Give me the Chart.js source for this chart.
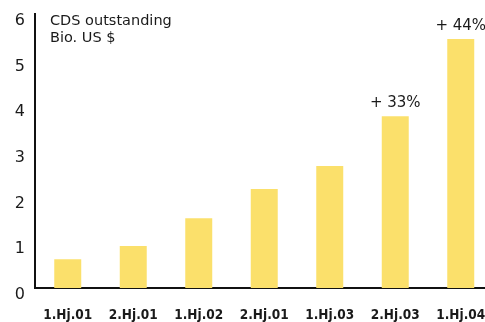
<!DOCTYPE html>
<html>
<head>
<meta charset="utf-8">
<script src="https://cdn.jsdelivr.net/npm/chart.js@4/dist/chart.umd.min.js"></script>
<style>
  html, body { margin: 0; padding: 0; background: #fff; }
  #wrap { width: 485px; height: 322px; overflow: hidden; }
  #cds { display: block; }
</style>
</head>
<body>
<div id="wrap"><canvas id="cds" width="494" height="322"></canvas></div>
<script>
// CDS volume per half-year, billions USD
const periods = ['1.Hj.01', '2.Hj.01', '1.Hj.02', '2.Hj.01', '1.Hj.03', '2.Hj.03', '1.Hj.04'];
const volumes = [0.63, 0.92, 1.53, 2.17, 2.67, 3.76, 5.45];
const growthNotes = ['', '', '', '', '', '+ 33%', '+ 44%'];
const yTicks = [0, 1, 2, 3, 4, 5, 6];
const titleLines = ['CDS outstanding', 'Bio. US $'];

const ink = '#1a1a1a';

// heading in the top-left corner and growth notes over the bars
const notesPlugin = {
    id: 'notes',
    afterDatasetsDraw(chart) {
        const ctx = chart.ctx;
        ctx.save();
        ctx.fillStyle = ink;
        ctx.font = '14.5px "DejaVu Sans"';
        ctx.textAlign = 'left';
        ctx.textBaseline = 'alphabetic';
        titleLines.forEach((t, i) => ctx.fillText(t, 50, 25 + i * 17));

        ctx.font = '15px "DejaVu Sans"';
        ctx.textAlign = 'center';
        const meta = chart.getDatasetMeta(0);
        meta.data.forEach((bar, i) => {
            if (!growthNotes[i]) return;
            ctx.fillText(growthNotes[i], bar.x, bar.y - 9);
        });
        ctx.restore();
    }
};

new Chart(document.getElementById('cds'), {
    type: 'bar',
    data: {
        labels: periods,
        datasets: [{
            data: volumes,
            backgroundColor: '#fbe06b',
            borderWidth: 0,
            categoryPercentage: 1,
            barPercentage: 0.412
        }]
    },
    options: {
        responsive: false,
        animation: false,
        layout: { padding: { top: 14, right: 0.5, left: 0, bottom: 0 } },
        plugins: {
            legend: { display: false },
            tooltip: { enabled: false }
        },
        scales: {
            x: {
                grid: { display: false, drawTicks: false },
                border: { display: true, color: '#111', width: 2 },
                ticks: {
                    color: ink,
                    font: { family: '"DejaVu Sans Condensed", "DejaVu Sans"', size: 13.5, weight: 'bold' },
                    padding: 19,
                    maxRotation: 0,
                    autoSkip: false
                },
                afterFit(scale) {
                    scale.height = 34;
                    // let the last label hang off the edge instead of shrinking the plot
                    scale.paddingLeft = 0;
                    scale.paddingRight = 0;
                }
            },
            y: {
                min: 0,
                max: 6,
                grid: { display: false, drawTicks: false },
                border: { display: true, color: '#111', width: 2 },
                afterBuildTicks(scale) { scale.ticks = yTicks.map(v => ({ value: v })); },
                ticks: {
                    color: ink,
                    font: { family: 'DejaVu Sans', size: 16 },
                    padding: 10,
                    labelOffset: 7
                },
                afterFit(scale) {
                    scale.width = 35;
                    scale.paddingTop = 0;
                    scale.paddingBottom = 0;
                }
            }
        }
    },
    plugins: [notesPlugin]
});
</script>
</body>
</html>
